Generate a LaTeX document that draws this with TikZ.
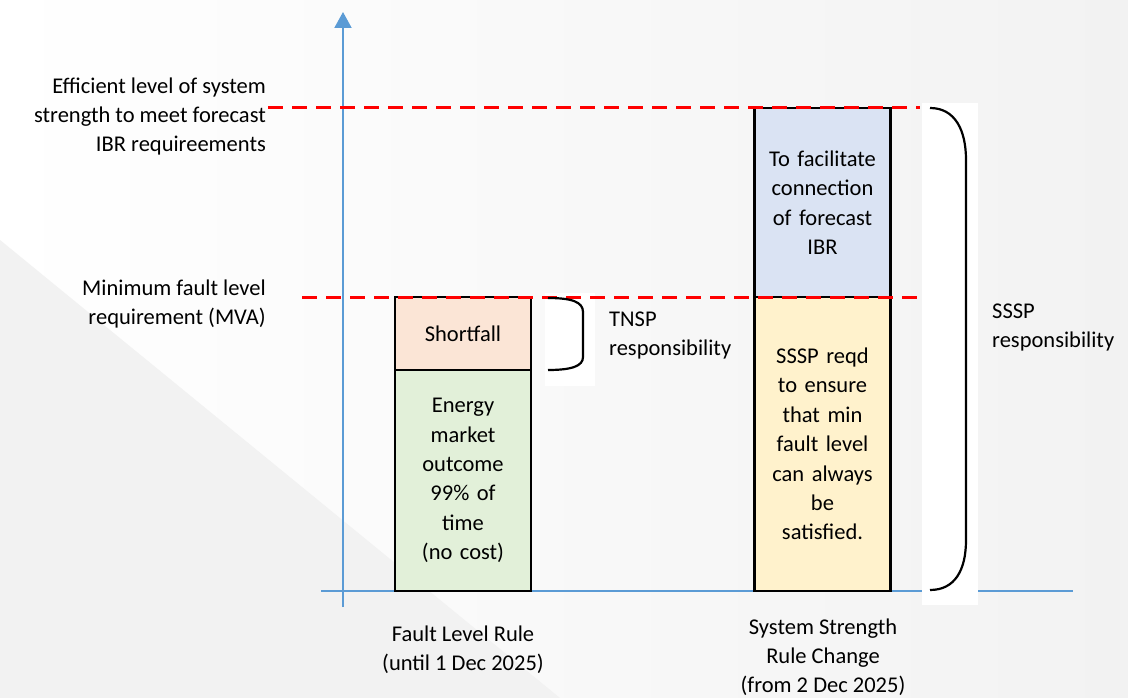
\documentclass[tikz,border=0pt]{standalone}
\usepackage{fontspec}
\setmainfont{Carlito}
\usetikzlibrary{arrows.meta}
\definecolor{axisblue}{HTML}{5B9BD5}
\definecolor{shortfallc}{HTML}{FBE5D6}
\definecolor{greenc}{HTML}{E2F0D9}
\definecolor{bluec}{HTML}{DAE3F3}
\definecolor{yellowc}{HTML}{FFF2CC}
\definecolor{bgc}{HTML}{F2F2F2}
\tikzset{
  bar/.style={draw=black, line width=2.6pt, minimum width=136pt, align=center, inner sep=1pt, text width=134pt, font=\fontsize{22.5}{29.4}\selectfont},
  lbl/.style={align=center, inner sep=0pt, font=\fontsize{22.5}{29}\selectfont},
  limit/.style={draw=red, line width=3pt, dash pattern=on 15pt off 9pt},
  axis/.style={draw=axisblue, line width=2pt},
  bracec/.style={draw=black, line width=2.2pt},
}
\begin{document}
\begin{tikzpicture}[x=1pt,y=-1pt]
\useasboundingbox (0,0) rectangle (1128,698);
% background
\shade[left color=white, right color=bgc] (0,0) rectangle (1128,698);
\fill[bgc] (0,240) -- (560,698) -- (0,698) -- cycle;
% axes
\coordinate (ytop) at (343,12);
\coordinate (ybot) at (343,607);
\coordinate (xl) at (321,591);
\coordinate (xr) at (1073,591);
\draw[axis] (xl) -- (xr);
\draw[axis, -{Triangle[length=16pt,width=17pt]}] (ybot) -- (ytop);
% bars
\node[bar, fill=shortfallc, minimum height=73pt] (short) at (463,333.5) {Shortfall};
\node[bar, fill=greenc, minimum height=221pt] (green) at (463,480.5) {Energy\\market\\outcome\\99\% of\\time\\(no cost)};
\node[bar, fill=bluec, minimum height=189pt] (blue) at (822.5,202.5) {To facilitate\\connection\\of forecast\\IBR};
\node[bar, fill=yellowc, minimum height=294pt] (yellow) at (822.5,444) {SSSP reqd\\to ensure\\that min\\fault level\\can always\\be\\satisfied.};
% white patches behind braces
\fill[white] (545,293) rectangle (595,386);
\fill[white] (922,103) rectangle (978,605);
% red limit lines
\coordinate (l1a) at (268,108);
\coordinate (l1b) at (920,108);
\coordinate (l2a) at (302,297);
\coordinate (l2b) at (920,297);
\draw[limit] (l1a) -- (l1b);
\draw[limit] (l2a) -- (l2b);
% braces
\draw[bracec] (548,298) .. controls (572,298) and (583,302) .. (583,312) -- (583,357) .. controls (583,366) and (572,370) .. (548,370);
\draw[bracec] (930,108) .. controls (955,108) and (966,130) .. (966,160) -- (966,540) .. controls (966,570) and (955,590) .. (930,590);
% labels
\node[lbl, align=right, anchor=east] (eff) at (266,117) {Efficient level of system\\strength to meet forecast\\IBR requireements};
\node[lbl, align=right, anchor=east] (minf) at (266,304) {Minimum fault level\\requirement (MVA)};
\node[lbl, align=left, anchor=west] (tnsp) at (609,336) {TNSP\\responsibility};
\node[lbl, align=left, anchor=west] (sssp) at (992,328) {SSSP\\responsibility};
\node[lbl] (flr) at (463,650) {Fault Level Rule\\(until 1 Dec 2025)};
\node[lbl] (ssr) at (823,657) {System Strength\\Rule Change\\(from 2 Dec 2025)};
\end{tikzpicture}
\end{document}
